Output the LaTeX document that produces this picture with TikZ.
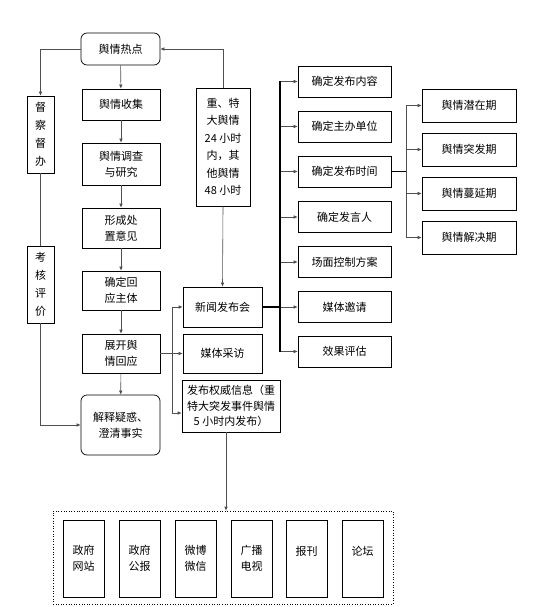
\documentclass[tikz,border=0pt]{standalone}
\usepackage{fontspec}
\newfontfamily\cjkfont{Noto Sans CJK SC}
\usetikzlibrary{arrows.meta,positioning,calc}
\definecolor{linegray}{RGB}{80,80,80}
\tikzset{
  stepbox/.style={draw=black,line width=0.7pt,inner sep=0pt,align=center,font=\cjkfont\fontsize{11}{16}\selectfont},
  roundbox/.style={stepbox,rounded corners=6pt},
  arr/.style={-{Latex[length=4pt,width=3.6pt]},line width=0.6pt,draw=linegray},
  link/.style={line width=0.6pt,draw=linegray},
  busline/.style={line width=1.4pt,draw=black}
}

\begin{document}
\begin{tikzpicture}[
  x=1pt,y=-1pt,
  colbox/.style={stepbox,minimum width=78pt},
  sidebox/.style={stepbox,minimum width=27pt,minimum height=77pt,font=\cjkfont\fontsize{11}{18}\selectfont},
  pubbox/.style={stepbox,minimum width=93pt,minimum height=31pt},
  phasebox/.style={stepbox,minimum width=94pt,minimum height=33pt},
  mediabox/.style={stepbox,minimum width=41pt,minimum height=77pt}
]
  \useasboundingbox (0,0) rectangle (534,607);

  % main column
  \node[roundbox,minimum width=79pt,minimum height=32pt] (redian) at (120.5,49) {舆情热点};
  \node[colbox,minimum height=31pt] (shouji) at (121,104.5) {舆情收集};
  \node[colbox,minimum height=42pt] (diaocha) at (121,164) {舆情调查\\与研究};
  \node[colbox,minimum height=40pt] (xingcheng) at (121,228) {形成处\\置意见};
  \node[colbox,minimum height=39pt] (zhuti) at (121,290.5) {确定回\\应主体};
  \node[colbox,minimum height=39pt] (zhankai) at (121,353.5) {展开舆\\情回应};
  \node[roundbox,minimum width=79pt,minimum height=60pt] (jieshi) at (120.5,425) {解释疑惑、\\澄清事实};

  % side column
  \node[sidebox] (ducha) at (40.5,134.5) {督\\察\\督\\办};
  \node[sidebox] (kaohe) at (40.5,284.5) {考\\核\\评\\价};

  % time limit box
  \node[stepbox,minimum width=54pt,minimum height=118pt,font=\cjkfont\fontsize{11}{17.5}\selectfont]
    (shixian) at (223,147) {重、特\\大舆情\\24 小时\\内，其\\他舆情\\48 小时};

  % response channels
  \node[stepbox,minimum width=79pt,minimum height=40pt] (xinwen) at (222.5,307) {新闻发布会};
  \node[stepbox,minimum width=79pt,minimum height=39pt] (caifang) at (222.5,353.5) {媒体采访};
  \node[stepbox,minimum width=98pt,minimum height=52pt,font=\cjkfont\fontsize{11}{15.5}\selectfont]
    (quanwei) at (231,406) {发布权威信息（重\\特大突发事件舆情\\5 小时内发布）};

  \foreach \a/\b in {redian/shouji,shouji/diaocha,diaocha/xingcheng,xingcheng/zhuti,zhuti/zhankai,zhankai/jieshi}{
    \draw[arr] (\a) -- (\b);
  }

  \draw[arr] (redian.west) -| (ducha.north);
  \draw[link] (ducha.south) -- (kaohe.north);
  \draw[arr] (kaohe.south) |- (jieshi.west);
  \draw[arr] (shixian.north) |- (redian.east);
  \draw[arr] (shixian.south) -- (xinwen.north);

  \coordinate (split) at ($(zhankai.east)+(12,0)$);
  \draw[link] (zhankai.east) -- (split);
  \draw[arr] (split) |- (xinwen.west);
  \draw[arr] (split) -- (caifang.west);
  \draw[arr] (split) |- ([yshift=-7pt]quanwei.west);

  % press conference items
  \coordinate (busA) at ($(xinwen.east)+(17.5,0)$);
  \foreach \n/\t/\y in {itemA/确定发布内容/81.5,itemB/确定主办单位/126.5,itemC/确定发布时间/171.5,
                        itemD/确定发言人/217,itemE/场面控制方案/262,itemF/媒体邀请/307,itemG/效果评估/351.5}{
    \node[pubbox] (\n) at (344.5,\y) {\t};
    \draw[arr] (\n.west -| busA) -- (\n.west);
  }
  \draw[busline] (itemA.west -| busA) -- (itemG.west -| busA);
  \draw[busline] (xinwen.east) -- (busA);

  % phases
  \coordinate (busB) at ($(itemC.east)+(15,0)$);
  \foreach \n/\t/\y in {phaseA/舆情潜在期/105.5,phaseB/舆情突发期/149.5,phaseC/舆情蔓延期/193.5,phaseD/舆情解决期/237.5}{
    \node[phasebox] (\n) at (469,\y) {\t};
    \draw[arr] (\n.west -| busB) -- (\n.west);
  }
  \draw[link,line width=0.9pt] (phaseA.west -| busB) -- (phaseD.west -| busB);
  \draw[busline] (itemC.east) -- (busB);

  % media platforms
  \node[draw=black,dotted,line width=0.6pt,minimum width=340pt,minimum height=93pt,inner sep=0pt] (media) at (223,557.5) {};
  \foreach \n/\t/\x in {mA/政府\\网站/83.5,mB/政府\\公报/139.5,mC/微博\\微信/195.5,
                        mD/广播\\电视/251.5,mE/报刊\\\mbox{}/306.5,mF/论坛\\\mbox{}/362.5}{
    \node[mediabox] (\n) at (\x,558.5) {\t};
  }
  \draw[arr] ([xshift=-5pt]quanwei.south) -- ([xshift=-5pt]quanwei.south |- media.north);

\end{tikzpicture}
\end{document}
